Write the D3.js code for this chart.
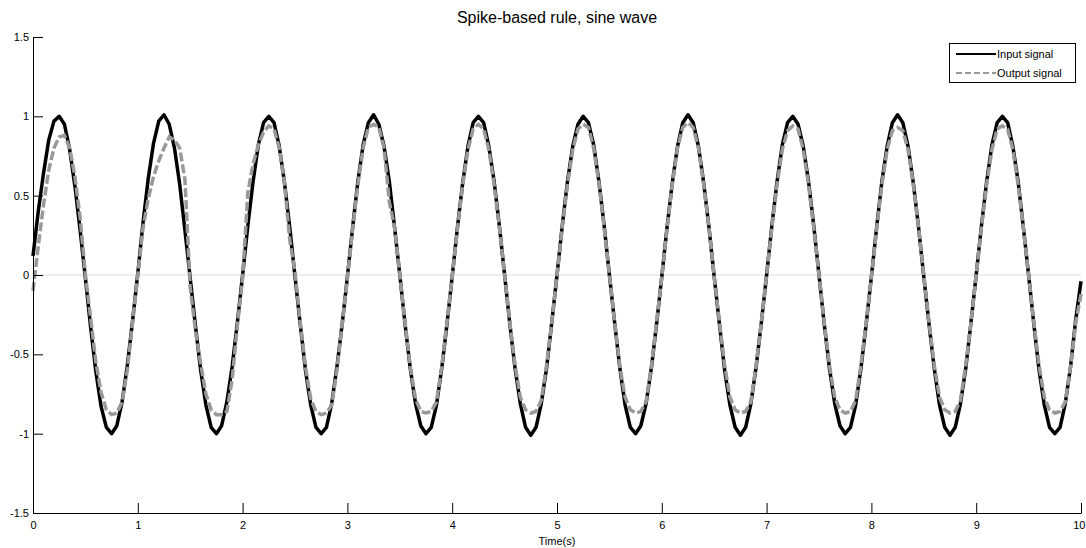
<html>
<head>
<meta charset="utf-8">
<script src="https://d3js.org/d3.v7.min.js"></script>
<style>
  body { margin: 0; background: #fff; }
  svg text { font-family: "Liberation Sans", Arial, sans-serif; fill: #000; }
  .tick text { font-size: 11px; }
</style>
</head>
<body>
<svg id="chart" width="1086" height="548"></svg>
<script>
const sampleStep = 0.05;
const inputSignal = [
   0.12, 0.40, 0.64, 0.85, 0.97, 1.00, 0.95, 0.79, 0.56, 0.28, -0.02, -0.33, -0.61, -0.83, -0.96, -1.00, -0.95, -0.80, -0.57, -0.29,
   0.01, 0.33, 0.61, 0.83, 0.97, 1.01, 0.95, 0.80, 0.57, 0.28, -0.02, -0.32, -0.60, -0.82, -0.96, -1.00, -0.95, -0.80, -0.58, -0.30,
   0.00, 0.31, 0.59, 0.82, 0.96, 1.00, 0.96, 0.81, 0.58, 0.30, -0.01, -0.31, -0.60, -0.82, -0.96, -1.00, -0.96, -0.81, -0.58, -0.31,
  -0.01, 0.30, 0.59, 0.82, 0.96, 1.01, 0.95, 0.81, 0.59, 0.30, 0.00, -0.31, -0.59, -0.81, -0.95, -1.00, -0.96, -0.82, -0.59, -0.31,
  -0.01, 0.30, 0.58, 0.81, 0.96, 1.00, 0.96, 0.81, 0.59, 0.31, 0.00, -0.31, -0.59, -0.81, -0.96, -1.01, -0.96, -0.81, -0.59, -0.30,
   0.00, 0.31, 0.59, 0.81, 0.95, 1.00, 0.96, 0.82, 0.59, 0.31, 0.00, -0.30, -0.59, -0.82, -0.96, -1.00, -0.95, -0.81, -0.59, -0.31,
  -0.01, 0.30, 0.58, 0.81, 0.96, 1.01, 0.96, 0.81, 0.58, 0.30, -0.01, -0.31, -0.60, -0.82, -0.96, -1.01, -0.96, -0.81, -0.58, -0.30,
   0.00, 0.31, 0.59, 0.82, 0.96, 1.00, 0.95, 0.81, 0.59, 0.31, 0.00, -0.31, -0.59, -0.81, -0.95, -1.00, -0.96, -0.82, -0.59, -0.31,
  -0.01, 0.30, 0.59, 0.81, 0.96, 1.01, 0.96, 0.81, 0.58, 0.30, -0.01, -0.31, -0.59, -0.82, -0.96, -1.01, -0.96, -0.81, -0.59, -0.30,
   0.00, 0.31, 0.59, 0.82, 0.96, 1.00, 0.96, 0.81, 0.59, 0.30, 0.00, -0.31, -0.60, -0.82, -0.96, -1.00, -0.96, -0.81, -0.58, -0.28,
  -0.04
];
const outputSignal = [
  -0.10, 0.18, 0.44, 0.66, 0.80, 0.87, 0.88, 0.80, 0.62, 0.36, 0.00, -0.27, -0.55, -0.74, -0.85, -0.88, -0.87, -0.80, -0.60, -0.30,
   0.00, 0.30, 0.48, 0.62, 0.72, 0.80, 0.87, 0.85, 0.80, 0.60, -0.08, -0.35, -0.56, -0.75, -0.85, -0.88, -0.88, -0.86, -0.66, -0.32,
  -0.02, 0.52, 0.70, 0.82, 0.90, 0.94, 0.92, 0.80, 0.58, 0.22, 0.02, -0.30, -0.58, -0.78, -0.86, -0.88, -0.87, -0.82, -0.60, -0.31,
  -0.02, 0.29, 0.57, 0.80, 0.93, 0.95, 0.93, 0.80, 0.46, 0.30, 0.00, -0.30, -0.58, -0.78, -0.86, -0.87, -0.86, -0.80, -0.58, -0.30,
  -0.01, 0.29, 0.57, 0.79, 0.92, 0.95, 0.92, 0.79, 0.57, 0.30, 0.00, -0.30, -0.57, -0.77, -0.85, -0.87, -0.86, -0.79, -0.57, -0.30,
   0.00, 0.30, 0.57, 0.79, 0.92, 0.95, 0.93, 0.80, 0.58, 0.30, 0.00, -0.30, -0.58, -0.77, -0.85, -0.87, -0.86, -0.80, -0.58, -0.30,
  -0.01, 0.29, 0.57, 0.80, 0.93, 0.96, 0.93, 0.80, 0.57, 0.30, -0.01, -0.30, -0.57, -0.77, -0.85, -0.87, -0.86, -0.80, -0.57, -0.30,
   0.00, 0.30, 0.57, 0.79, 0.91, 0.94, 0.92, 0.79, 0.57, 0.30, 0.00, -0.30, -0.57, -0.77, -0.85, -0.87, -0.86, -0.79, -0.57, -0.30,
  -0.01, 0.29, 0.57, 0.79, 0.91, 0.93, 0.91, 0.79, 0.57, 0.30, 0.00, -0.30, -0.57, -0.77, -0.85, -0.87, -0.86, -0.79, -0.57, -0.30,
   0.00, 0.30, 0.57, 0.79, 0.92, 0.94, 0.92, 0.79, 0.57, 0.30, 0.00, -0.30, -0.57, -0.77, -0.85, -0.87, -0.86, -0.80, -0.58, -0.30,
  -0.12
];
const xTicks = [0, 1, 2, 3, 4, 5, 6, 7, 8, 9, 10];
const yTicks = [-1.5, -1, -0.5, 0, 0.5, 1, 1.5];
const legendLabels = ["Input signal", "Output signal"];

const svg = d3.select("#chart");
const plot = { left: 33, right: 1081, top: 37, bottom: 513 };

const x = d3.scaleLinear().domain([0, 10]).range([plot.left, plot.right]);
const y = d3.scaleLinear().domain([-1.5, 1.5]).range([plot.bottom, plot.top]);

// zero reference line
svg.append("line")
  .attr("x1", x(0)).attr("x2", x(10))
  .attr("y1", y(0)).attr("y2", y(0))
  .attr("stroke", "#dcdcdc").attr("stroke-width", 1);

const line = d3.line()
  .x((d, i) => x(i * sampleStep))
  .y(d => y(d));

svg.append("path")
  .datum(inputSignal)
  .attr("d", line)
  .attr("fill", "none")
  .attr("stroke", "#000")
  .attr("stroke-width", 3.5)
  .attr("stroke-linejoin", "round");

svg.append("path")
  .datum(outputSignal)
  .attr("d", line)
  .attr("fill", "none")
  .attr("stroke", "#999")
  .attr("stroke-width", 3.5)
  .attr("stroke-dasharray", "9,3");

// axes, ticks pointing inward like matlab
const xAxis = svg.append("g")
  .attr("transform", `translate(0,${plot.bottom})`)
  .call(d3.axisBottom(x).tickValues(xTicks).tickSize(-10).tickPadding(7).tickSizeOuter(0));
const yAxis = svg.append("g")
  .attr("transform", `translate(${plot.left},0)`)
  .call(d3.axisLeft(y).tickValues(yTicks).tickSize(-10).tickPadding(4).tickSizeOuter(0)
    .tickFormat(d => String(d)));
[xAxis, yAxis].forEach(g => {
  g.select(".domain").attr("stroke", "#000");
  g.selectAll(".tick line").attr("stroke", "#000");
  g.selectAll(".tick text").attr("font-size", 11);
});
xAxis.selectAll(".tick text").attr("dy", "0.8em");
// last label sits at the window edge, keep it inside
xAxis.selectAll(".tick text").filter(d => d === 10)
  .attr("text-anchor", "end").attr("x", 4);

svg.append("text")
  .attr("x", (plot.left + plot.right) / 2).attr("y", 23)
  .attr("text-anchor", "middle")
  .attr("font-size", 16)
  .text("Spike-based rule, sine wave");

svg.append("text")
  .attr("x", (plot.left + plot.right) / 2).attr("y", 545)
  .attr("text-anchor", "middle")
  .attr("font-size", 11)
  .text("Time(s)");

// legend
const lg = svg.append("g");
lg.append("rect")
  .attr("x", 949.5).attr("y", 43.5).attr("width", 126).attr("height", 39)
  .attr("fill", "#fff").attr("stroke", "#000");
const styles = [{ c: "#000", dash: null }, { c: "#999", dash: "6,3" }];
legendLabels.forEach((lab, i) => {
  const yy = 54 + i * 19;
  lg.append("line")
    .attr("x1", 956).attr("x2", 996).attr("y1", yy).attr("y2", yy)
    .attr("stroke", styles[i].c).attr("stroke-width", 2)
    .attr("stroke-dasharray", styles[i].dash);
  lg.append("text")
    .attr("x", 997).attr("y", yy + 4)
    .attr("font-size", 11)
    .text(lab);
});
</script>
</body>
</html>
